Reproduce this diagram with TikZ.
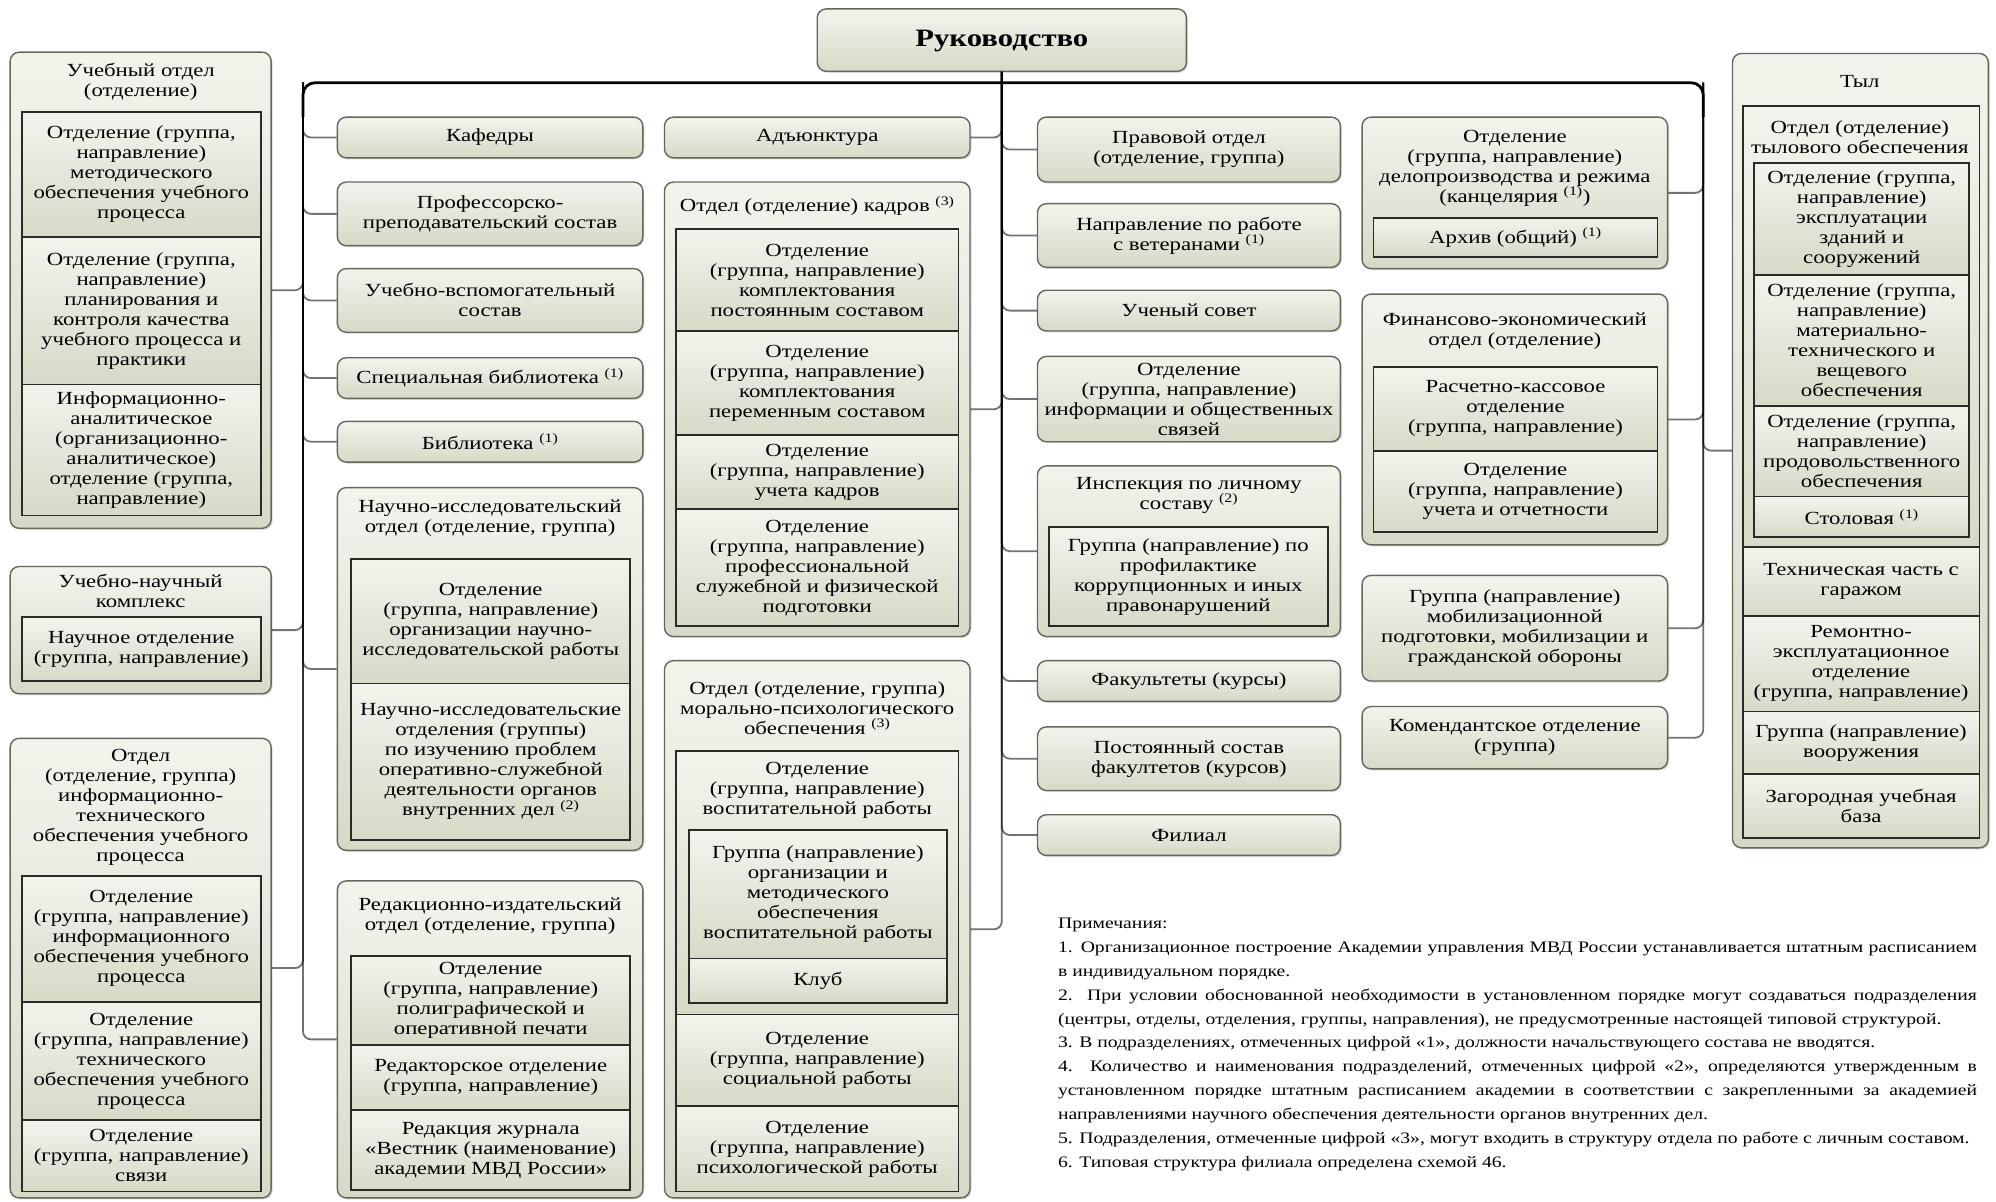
\documentclass[tikz,border=0pt]{standalone}
\usepackage{fontspec}
\setmainfont{Liberation Serif}[FakeStretch=1.23]
\usetikzlibrary{fit,calc,shadows}
\definecolor{ftop}{HTML}{F3F3EC}
\definecolor{fbot}{HTML}{D7D9C8}
\definecolor{oedge}{HTML}{66675C}
\definecolor{iedge}{HTML}{2A2A26}
\newcommand\nsup[1]{\textsuperscript{(#1)}}
\newcommand\bodyf{\fontsize{18.5}{20}\selectfont}
\newcommand\titf{\fontsize{25}{28}\selectfont\bfseries}
\newcommand\notef{\fontsize{16}{23.9}\selectfont}
\tikzset{
  obox/.style={inner sep=0pt, draw=oedge, line width=1.4pt, rounded corners=9pt,
    top color=ftop, bottom color=fbot,
    drop shadow={shadow xshift=1.5pt, shadow yshift=-1.5pt, fill=black, opacity=0.15}},
  ibox/.style={inner sep=0pt, draw=iedge, line width=1.8pt,
    top color=ftop, bottom color=fbot},
  tbox/.style={inner sep=0pt, align=center, font=\bodyf},
  conn/.style={draw=black, draw opacity=0.55, line width=1.8pt, rounded corners=8pt},
  busline/.style={draw=black, line width=2.8pt, rounded corners=12pt},
}
% box with centred text: style, corner, corner, name, text
\newcommand\bx[5]{\node[#1, fit={#2 #3}] (#4) {};
  \node[tbox] (#4t) at (#4.center) {#5};}
\begin{document}
\begin{tikzpicture}[x=1.273pt,y=-1.273pt]
\fill[white] (0,0) rectangle (1568,944);
\useasboundingbox (0,0) rectangle (1568,944);

% ---------- top
\node[obox, fit={(642,7) (932,56)}] (ruk) {};
\node[tbox, font=\titf] (rukt) at ([yshift=-1pt]ruk.center) {Руководство};

% ---------- column 1
\node[obox, fit={(8,41) (213,415)}] (uo) {};
\node[tbox] (uot) at (110.5,64) {Учебный отдел\\(отделение)};
\bx{ibox}{(17,88)}{(205,186)}{uo1}{Отделение (группа,\\направление)\\методического\\обеспечения учебного\\процесса}
\bx{ibox}{(17,186)}{(205,302)}{uo2}{Отделение (группа,\\направление)\\планирования и\\контроля качества\\учебного процесса и\\практики}
\bx{ibox}{(17,302)}{(205,405)}{uo3}{Информационно-\\аналитическое\\(организационно-\\аналитическое)\\отделение (группа,\\направление)}

\node[obox, fit={(8,445) (213,545)}] (unk) {};
\node[tbox] (unkt) at (110.5,464) {Учебно-научный\\комплекс};
\bx{ibox}{(17,485)}{(205,535)}{unk1}{Научное отделение\\(группа, направление)}

\node[obox, fit={(8,580) (213,941)}] (ito) {};
\node[tbox] (itot) at (110.5,634) {Отдел\\(отделение, группа)\\информационно-\\технического\\обеспечения учебного\\процесса};
\bx{ibox}{(17,688)}{(205,787)}{ito1}{Отделение\\(группа, направление)\\информационного\\обеспечения учебного\\процесса}
\bx{ibox}{(17,787)}{(205,880)}{ito2}{Отделение\\(группа, направление)\\технического\\обеспечения учебного\\процесса}
\bx{ibox}{(17,880)}{(205,936)}{ito3}{Отделение\\(группа, направление)\\связи}

% ---------- column 2
\bx{obox}{(265,92)}{(505,124)}{kaf}{Кафедры}
\bx{obox}{(265,143)}{(505,193)}{pps}{Профессорско-\\преподавательский состав}
\bx{obox}{(265,211)}{(505,261)}{uvs}{Учебно-вспомогательный\\состав}
\bx{obox}{(265,281)}{(505,313)}{sbib}{Специальная библиотека \nsup{1}}
\bx{obox}{(265,331)}{(505,363)}{bib}{Библиотека \nsup{1}}
\node[obox, fit={(265,383) (505,668)}] (nio) {};
\node[tbox] (niot) at (385,407) {Научно-исследовательский\\отдел (отделение, группа)};
\bx{ibox}{(276,439)}{(495,537)}{nio1}{Отделение\\(группа, направление)\\организации научно-\\исследовательской работы}
\bx{ibox}{(276,537)}{(495,660)}{nio2}{Научно-исследовательские\\отделения (группы)\\по изучению проблем\\оперативно-служебной\\деятельности органов\\внутренних дел \nsup{2}}
\node[obox, fit={(265,692) (505,941)}] (rio) {};
\node[tbox] (riot) at (385,720) {Редакционно-издательский\\отдел (отделение, группа)};
\bx{ibox}{(276,751)}{(495,821)}{rio1}{Отделение\\(группа, направление)\\полиграфической и\\оперативной печати}
\bx{ibox}{(276,821)}{(495,872)}{rio2}{Редакторское отделение\\(группа, направление)}
\bx{ibox}{(276,872)}{(495,935)}{rio3}{Редакция журнала\\«Вестник (наименование)\\академии МВД России»}

% ---------- column 3
\bx{obox}{(522,92)}{(762,124)}{adj}{Адъюнктура}
\node[obox, fit={(522,143) (762,500)}] (kad) {};
\node[tbox] (kadt) at (642,162) {Отдел (отделение) кадров \nsup{3}};
\bx{ibox}{(531,180)}{(753,260)}{kad1}{Отделение\\(группа, направление)\\комплектования\\постоянным составом}
\bx{ibox}{(531,260)}{(753,342)}{kad2}{Отделение\\(группа, направление)\\комплектования\\переменным составом}
\bx{ibox}{(531,342)}{(753,400)}{kad3}{Отделение\\(группа, направление)\\учета кадров}
\bx{ibox}{(531,400)}{(753,492)}{kad4}{Отделение\\(группа, направление)\\профессиональной\\служебной и физической\\подготовки}

\node[obox, fit={(522,519) (762,941)}] (mpo) {};
\node[tbox] (mpot) at (642,556) {Отдел (отделение, группа)\\морально-психологического\\обеспечения \nsup{3}};
\node[ibox, fit={(531,590) (753,797)}] (mpo1) {};
\node[tbox] (mpo1t) at (642,621) {Отделение\\(группа, направление)\\воспитательной работы};
\bx{ibox}{(541,652)}{(744,753)}{mpo1a}{Группа (направление)\\организации и\\методического\\обеспечения\\воспитательной работы}
\bx{ibox}{(541,753)}{(744,788)}{mpo1b}{Клуб}
\bx{ibox}{(531,797)}{(753,869)}{mpo2}{Отделение\\(группа, направление)\\социальной работы}
\bx{ibox}{(531,869)}{(753,936)}{mpo3}{Отделение\\(группа, направление)\\психологической работы}

% ---------- column 4
\bx{obox}{(815,92)}{(1053,143)}{prav}{Правовой отдел\\(отделение, группа)}
\bx{obox}{(815,160)}{(1053,210)}{vet}{Направление по работе\\с ветеранами \nsup{1}}
\bx{obox}{(815,228)}{(1053,260)}{us}{Ученый совет}
\bx{obox}{(815,280)}{(1053,347)}{inf}{Отделение\\(группа, направление)\\информации и общественных\\связей}
\node[obox, fit={(815,366) (1053,500)}] (insp) {};
\node[tbox] (inspt) at (934,389) {Инспекция по личному\\составу \nsup{2}};
\bx{ibox}{(824,414)}{(1043,492)}{insp1}{Группа (направление) по\\профилактике\\коррупционных и иных\\правонарушений}
\bx{obox}{(815,519)}{(1053,551)}{fak}{Факультеты (курсы)}
\bx{obox}{(815,571)}{(1053,621)}{psf}{Постоянный состав\\факултетов (курсов)}
\bx{obox}{(815,640)}{(1053,672)}{fil}{Филиал}

% ---------- column 5
\node[obox, fit={(1070,92) (1310,211)}] (kanc) {};
\node[tbox] (kanct) at (1190,132) {Отделение\\(группа, направление)\\делопроизводства и режима\\(канцелярия \nsup{1})};
\bx{ibox}{(1079,171)}{(1302,202)}{arch}{Архив (общий) \nsup{1}}
\node[obox, fit={(1070,231) (1310,428)}] (fin) {};
\node[tbox] (fint) at (1190,260) {Финансово-экономический\\отдел (отделение)};
\bx{ibox}{(1079,288)}{(1302,354)}{fin1}{Расчетно-кассовое\\отделение\\(группа, направление)}
\bx{ibox}{(1079,354)}{(1302,418)}{fin2}{Отделение\\(группа, направление)\\учета и отчетности}
\bx{obox}{(1070,452)}{(1310,535)}{mob}{Группа (направление)\\мобилизационной\\подготовки, мобилизации и\\гражданской обороны}
\bx{obox}{(1070,555)}{(1310,604)}{kom}{Комендантское отделение\\(группа)}

% ---------- column 6 (Тыл)
\node[obox, fit={(1361,42) (1562,666)}] (tyl) {};
\node[tbox] (tylt) at (1461,64) {Тыл};
\node[ibox, fit={(1369,83) (1555,430)}] (tob) {};
\node[tbox] (tobt) at (1461,108) {Отдел (отделение)\\тылового обеспечения};
\bx{ibox}{(1378,128)}{(1547,216)}{tob1}{Отделение (группа,\\направление)\\эксплуатации\\зданий и\\сооружений}
\bx{ibox}{(1378,216)}{(1547,319)}{tob2}{Отделение (группа,\\направление)\\материально-\\технического и\\вещевого\\обеспечения}
\bx{ibox}{(1378,319)}{(1547,390)}{tob3}{Отделение (группа,\\направление)\\продовольственного\\обеспечения}
\bx{ibox}{(1378,390)}{(1547,422)}{tob4}{Столовая \nsup{1}}
\bx{ibox}{(1369,430)}{(1555,484)}{tch}{Техническая часть с\\гаражом}
\bx{ibox}{(1369,484)}{(1555,559)}{rem}{Ремонтно-\\эксплуатационное\\отделение\\(группа, направление)}
\bx{ibox}{(1369,559)}{(1555,608)}{vor}{Группа (направление)\\вооружения}
\bx{ibox}{(1369,608)}{(1555,658)}{zag}{Загородная учебная\\база}

% ---------- connectors
\coordinate (LB) at (238,65);
\coordinate (RB) at (1338,65);
\coordinate (LBd) at (238,92);
\coordinate (RBd) at (1338,92);

\foreach \n in {uo,unk,ito}{\draw[conn] (LB) |- (\n.east);}
\foreach \n in {kaf,pps,uvs,sbib,bib,nio,rio}{\draw[conn] (LB) |- (\n.west);}
\foreach \n in {adj,kad,mpo}{\draw[conn] (ruk.south) |- (\n.east);}
\foreach \n in {prav,vet,us,inf,insp,fak,psf,fil}{\draw[conn] (ruk.south) |- (\n.west);}
\foreach \n in {kanc,fin,mob,kom}{\draw[conn] (RB) |- (\n.east);}
\draw[conn] (RB) |- (tyl.west);

\draw[busline] (LBd) -- (LB) -- (RB) -- (RBd);

% ---------- notes
\node[anchor=north west, inner sep=0pt, align=left, font=\notef] (notes) at (831,721) {%
Примечания:\\
\makebox[919pt][s]{1. Организационное построение Академии управления МВД России устанавливается штатным расписанием}\\
в индивидуальном порядке.\\
\makebox[919pt][s]{2. При условии обоснованной необходимости в установленном порядке могут создаваться подразделения}\\
(центры, отделы, отделения, группы, направления), не предусмотренные настоящей типовой структурой.\\
3. В подразделениях, отмеченных цифрой «1», должности начальствующего состава не вводятся.\\
\makebox[919pt][s]{4. Количество и наименования подразделений, отмеченных цифрой «2», определяются утвержденным в}\\
\makebox[919pt][s]{установленном порядке штатным расписанием академии в соответствии с закрепленными за академией}\\
направлениями научного обеспечения деятельности органов внутренних дел.\\
5. Подразделения, отмеченные цифрой «3», могут входить в структуру отдела по работе с личным составом.\\
6. Типовая структура филиала определена схемой 46.};
\end{tikzpicture}
\end{document}
